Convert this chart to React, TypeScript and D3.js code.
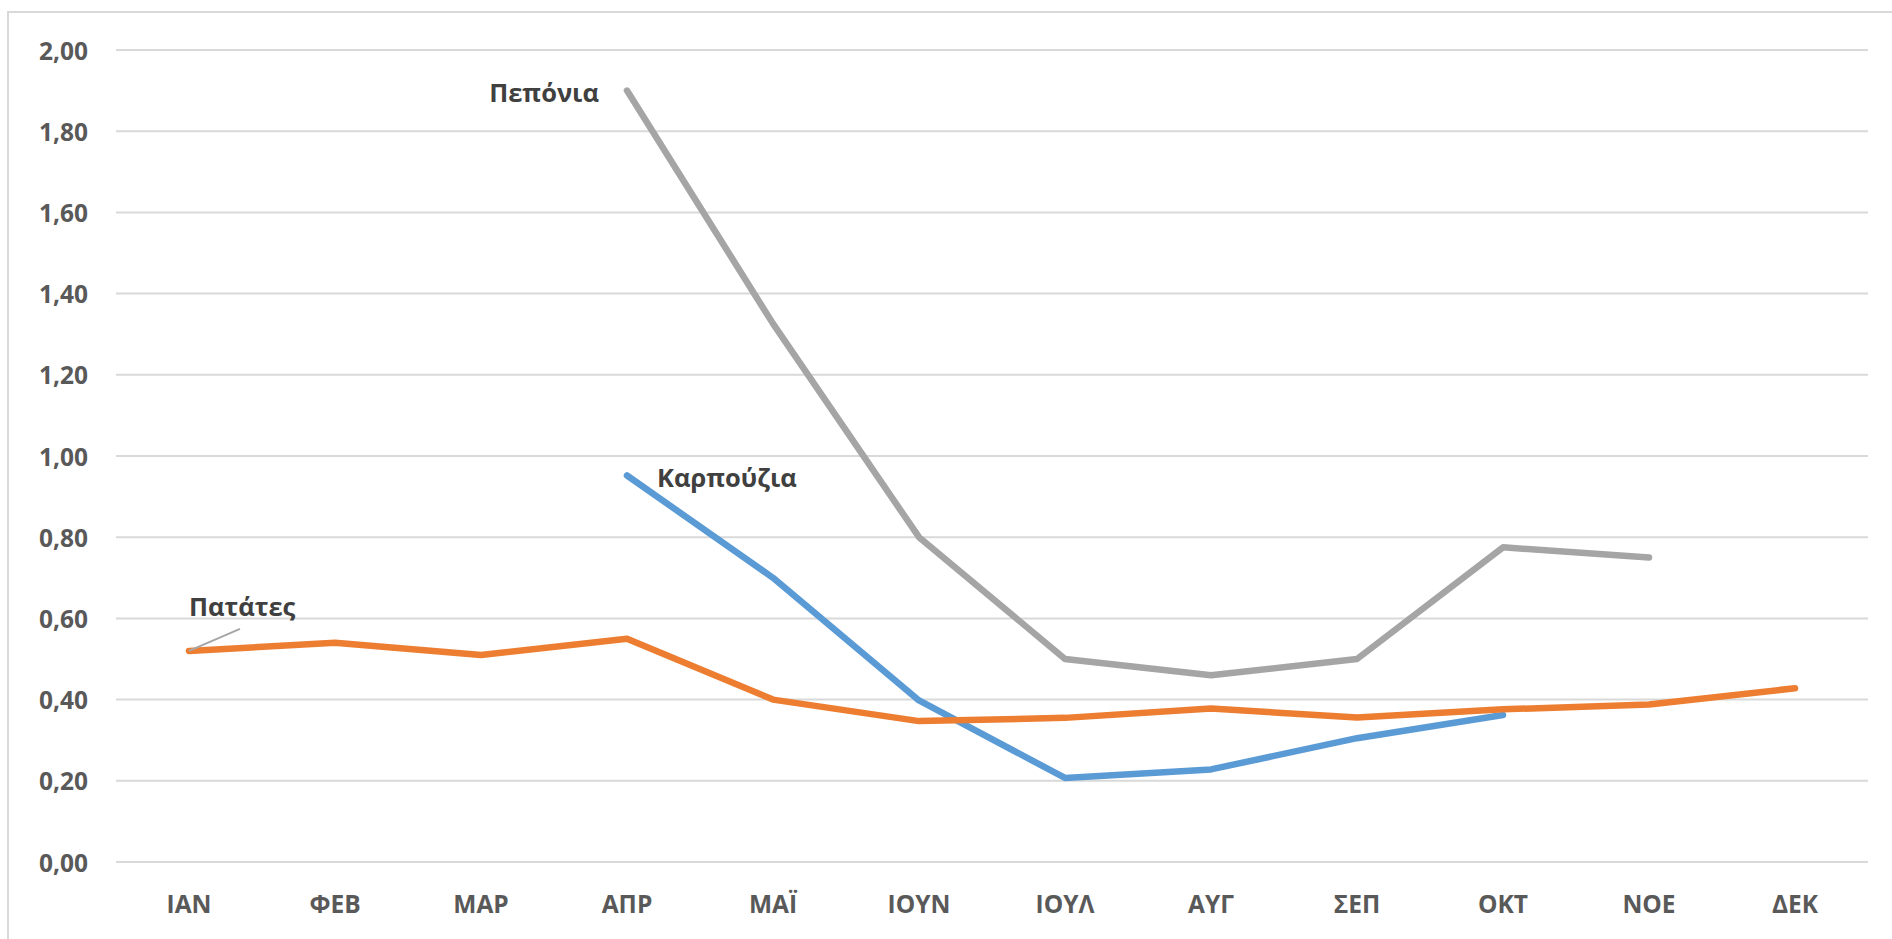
import React from "react";
import * as d3 from "d3";

const months = ["ΙΑΝ", "ΦΕΒ", "ΜΑΡ", "ΑΠΡ", "ΜΑΪ", "ΙΟΥΝ", "ΙΟΥΛ", "ΑΥΓ", "ΣΕΠ", "ΟΚΤ", "ΝΟΕ", "ΔΕΚ"];
const patates: (number | null)[] = [0.52, 0.54, 0.51, 0.55, 0.40, 0.347, 0.355, 0.378, 0.356, 0.376, 0.388, 0.428];
const karpouzia: (number | null)[] = [null, null, null, 0.952, 0.70, 0.398, 0.207, 0.228, 0.305, 0.362, null, null];
const peponia: (number | null)[] = [null, null, null, 1.90, 1.326, 0.80, 0.50, 0.46, 0.50, 0.775, 0.75, null];
const yTicks = [0, 0.2, 0.4, 0.6, 0.8, 1.0, 1.2, 1.4, 1.6, 1.8, 2.0];

const W = 1892;
const H = 939;
const plotLeft = 116;
const plotRight = 1868;
const yTop = 50;
const yBottom = 862;

const series = [
  { name: "Καρπούζια", values: karpouzia, color: "#5B9BD5" },
  { name: "Πατάτες", values: patates, color: "#ED7D31" },
  { name: "Πεπόνια", values: peponia, color: "#A5A5A5" },
];

export default function App() {
  const x = d3.scaleBand<string>().domain(months).range([plotLeft, plotRight]);
  const cx = (m: string) => (x(m) as number) + x.bandwidth() / 2;
  const y = d3.scaleLinear().domain([0, 2]).range([yBottom, yTop]);
  const fmt = (v: number) => d3.format(".2f")(v).replace(".", ",");

  const line = d3
    .line<number | null>()
    .defined((d) => d != null)
    .x((_, i) => cx(months[i]))
    .y((d) => y(d as number));

  const font = "'Open Sans', 'DejaVu Sans', sans-serif";

  const patX = cx("ΙΑΝ");
  const patY = y(patates[0] as number);

  return (
    <svg
      width={W}
      height={H}
      style={{ position: "absolute", left: 0, top: 0, background: "#fff" }}
      fontFamily={font}
    >
      <rect x={8} y={12} width={W + 20} height={H + 20} fill="#fff" stroke="#D9D9D9" strokeWidth={2} />
      {yTicks.map((t) => (
        <g key={t}>
          <line x1={plotLeft} x2={plotRight} y1={y(t)} y2={y(t)} stroke="#D9D9D9" strokeWidth={2} />
          <text
            x={88}
            y={y(t)}
            textAnchor="end"
            dominantBaseline="central"
            fontSize={24.5}
            fontWeight="bold"
            fill="#595959"
          >
            {fmt(t)}
          </text>
        </g>
      ))}
      {months.map((m) => (
        <text
          key={m}
          x={cx(m)}
          y={903}
          textAnchor="middle"
          dominantBaseline="central"
          fontSize={24.5}
          fontWeight="bold"
          fill="#595959"
        >
          {m}
        </text>
      ))}
      {series.map((s) => (
        <path
          key={s.name}
          d={line(s.values) || ""}
          fill="none"
          stroke={s.color}
          strokeWidth={6.5}
          strokeLinecap="round"
          strokeLinejoin="round"
        />
      ))}
      <line x1={patX} y1={patY} x2={patX + 51} y2={patY - 22} stroke="#A6A6A6" strokeWidth={2} />
      <text x={patX} y={606} dominantBaseline="central" fontSize={25.5} fontWeight="bold" fill="#404040">
        Πατάτες
      </text>
      <text
        x={cx("ΑΠΡ") - 28}
        y={92}
        textAnchor="end"
        dominantBaseline="central"
        fontSize={25.5}
        fontWeight="bold"
        fill="#404040"
      >
        Πεπόνια
      </text>
      <text x={cx("ΑΠΡ") + 30} y={477} dominantBaseline="central" fontSize={25.5} fontWeight="bold" fill="#404040">
        Καρπούζια
      </text>
    </svg>
  );
}
